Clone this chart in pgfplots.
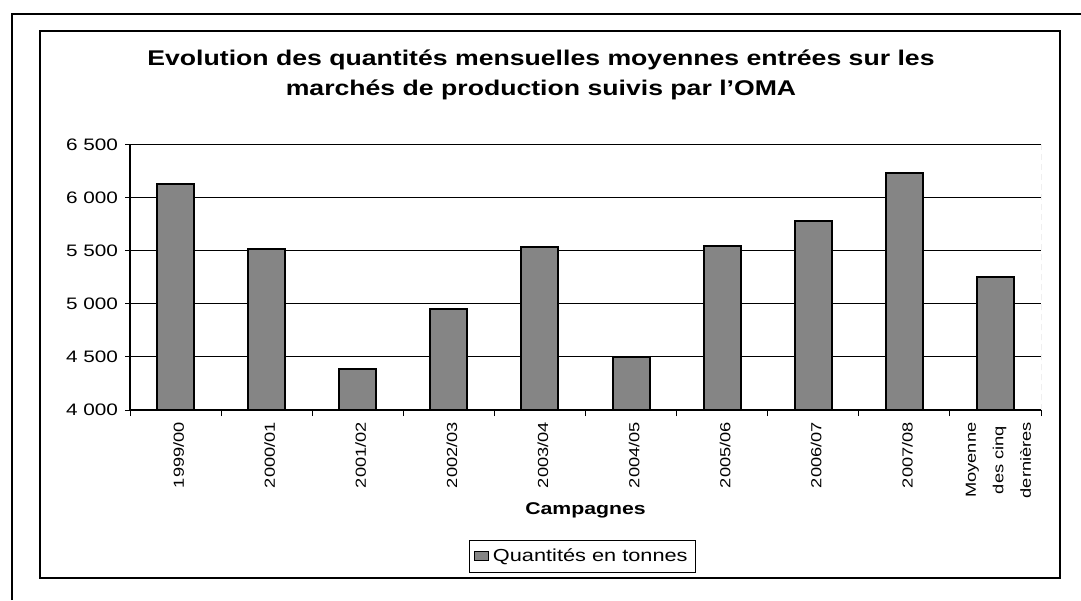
\documentclass[border=0pt]{standalone}
\usepackage{fontspec}
\setmainfont{Liberation Sans}[FakeStretch=1.25]
\usepackage{pgfplots}
\pgfplotsset{compat=1.18}
\begin{document}
\begin{tikzpicture}
\path[use as bounding box] (0,0) rectangle (540.5pt,300pt);
\begin{scope}[x=0.5pt,y=-0.5pt,yshift=300pt]
  \draw[line width=0.6pt] (40,31) rectangle (1060,578);
  \draw[line width=0.9pt] (12,600) -- (12,14) -- (1081,14);
  \node[font=\bfseries\fontsize{10.65}{15}\selectfont, align=center] at (541,75)
    {Evolution des quantités mensuelles moyennes entrées sur les\\marchés de production suivis par l'OMA};
\end{scope}
\begin{axis}[
  at={(65pt,95pt)}, anchor=south west,
  scale only axis, width=455.5pt, height=132.85pt,
  xmin=-0.5, xmax=9.5, ymin=4000, ymax=6500,
  xtick={0,...,9},
  xticklabels={1999/00,2000/01,2001/02,2002/03,2003/04,2004/05,2005/06,2006/07,2007/08,{Moyenne\\des cinq\\dernières}},
  minor xtick={-0.5,0.5,...,9.5},
  ytick={4000,4500,5000,5500,6000,6500},
  yticklabels={4~000,4~500,5~000,5~500,6~000,6~500},
  axis x line*=bottom, axis y line*=left,
  axis line style={-, black, line width=0.6pt},
  ymajorgrids, grid style={black, line width=0.5pt},
  tick align=outside,
  major tick length=2.5pt, minor tick length=3pt,
  major x tick style={draw=none},
  minor x tick style={black, line width=0.5pt},
  y tick style={black, line width=0.5pt},
  yticklabel style={font=\fontsize{8.3}{10}\selectfont, anchor=east},
  xticklabel style={font=\fontsize{7.3}{13.75}\selectfont, rotate=90, anchor=east, align=center, yshift=-1.5pt},
  xlabel={Campagnes},
  xlabel style={at={(axis description cs:0.5,-0.376)}, anchor=center, font=\bfseries\fontsize{8.5}{10}\selectfont},
  legend style={at={(0.497,-0.551)}, anchor=center, draw=black, line width=0.5pt,
    font=\fontsize{8.7}{10}\selectfont, inner xsep=2pt, inner ysep=2pt},
]
\addplot[ybar, bar width=18.5pt, fill=black!48, draw=black, line width=1pt,
  legend image code/.code={\draw[fill=black!48, draw=black, line width=0.5pt] (0pt,-2pt) rectangle (7pt,2.5pt);}]
  coordinates {(0,6130) (1,5515) (2,4387) (3,4953) (4,5530) (5,4500) (6,5540) (7,5775) (8,6233) (9,5255)};
\addlegendentry{Quantités en tonnes}
\draw[gray, line width=0.5pt, densely dashed] (rel axis cs:1,0) -- (rel axis cs:1,1);
\end{axis}
\end{tikzpicture}
\end{document}
